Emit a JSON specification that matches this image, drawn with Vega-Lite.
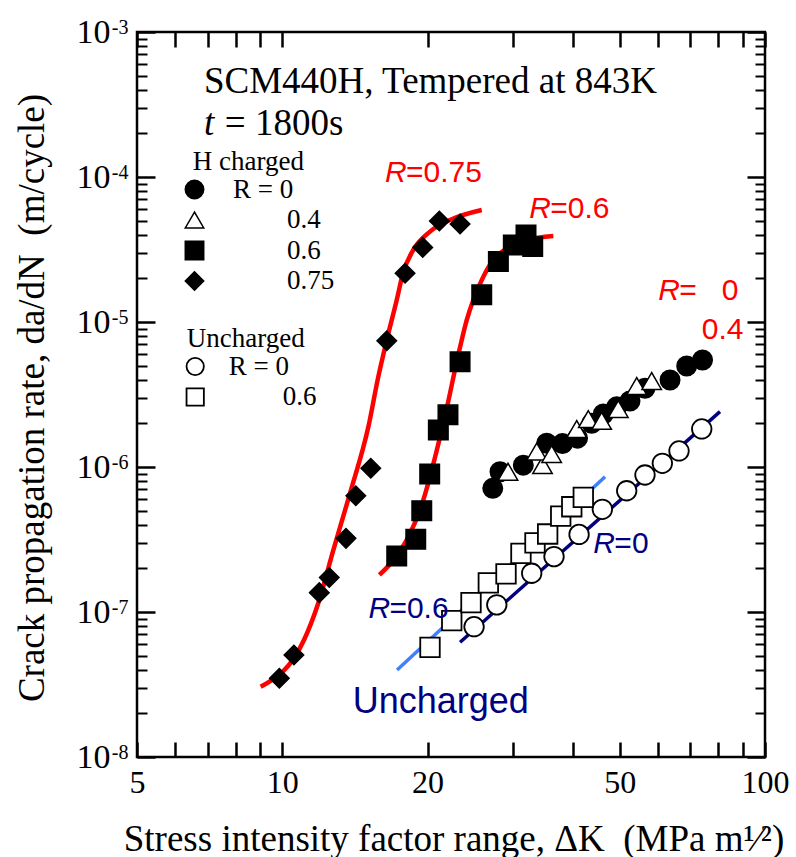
{
  "$schema": "https://vega.github.io/schema/vega-lite/v6.json",
  "width": 628,
  "height": 725,
  "autosize": {"type": "none"},
  "padding": {"left": 137, "top": 32, "right": 31, "bottom": 100},
  "background": "white",
  "config": {
    "view": {"stroke": "black", "strokeWidth": 2.5},
    "axis": {
      "grid": false, "domain": false, "tickColor": "black", "tickWidth": 2.5,
      "labelFont": "Liberation Serif", "labelFontSize": 33, "labelColor": "black",
      "titleFont": "Liberation Serif", "titleFontSize": 37, "titleFontWeight": "normal", "titleColor": "black",
      "labelFlush": false, "labelOverlap": false
    },
    "legend": {
      "titleFont": "Liberation Serif", "titleFontSize": 27, "titleFontWeight": "normal", "titleColor": "black",
      "labelFont": "Liberation Serif", "labelFontSize": 27, "labelColor": "black",
      "padding": 0, "rowPadding": 2.5, "titlePadding": 0, "direction": "vertical"
    }
  },
  "datasets": {
    "curves": [
      {"curve": "R=0.75", "dK": 9.02, "rate": 3.05e-8},
      {"curve": "R=0.75", "dK": 11.09, "rate": 6.41e-8},
      {"curve": "R=0.75", "dK": 11.87, "rate": 1.15e-7},
      {"curve": "R=0.75", "dK": 12.76, "rate": 2.68e-7},
      {"curve": "R=0.75", "dK": 13.81, "rate": 6.58e-7},
      {"curve": "R=0.75", "dK": 15.08, "rate": 1.9e-6},
      {"curve": "R=0.75", "dK": 15.81, "rate": 4.2e-6},
      {"curve": "R=0.75", "dK": 16.46, "rate": 7.51e-6},
      {"curve": "R=0.75", "dK": 17.26, "rate": 1.42e-5},
      {"curve": "R=0.75", "dK": 17.79, "rate": 2.18e-5},
      {"curve": "R=0.75", "dK": 18.68, "rate": 3.14e-5},
      {"curve": "R=0.75", "dK": 20.23, "rate": 4.2e-5},
      {"curve": "R=0.75", "dK": 22.25, "rate": 5.05e-5},
      {"curve": "R=0.75", "dK": 25.89, "rate": 5.92e-5},
      {"curve": "R=0.6", "dK": 15.89, "rate": 1.8e-7},
      {"curve": "R=0.6", "dK": 18.1, "rate": 3.14e-7},
      {"curve": "R=0.6", "dK": 19.29, "rate": 5.05e-7},
      {"curve": "R=0.6", "dK": 21.56, "rate": 2.0e-6},
      {"curve": "R=0.6", "dK": 23.35, "rate": 6.72e-6},
      {"curve": "R=0.6", "dK": 24.1, "rate": 1.03e-5},
      {"curve": "R=0.6", "dK": 24.87, "rate": 1.42e-5},
      {"curve": "R=0.6", "dK": 26.09, "rate": 2.05e-5},
      {"curve": "R=0.6", "dK": 27.36, "rate": 2.68e-5},
      {"curve": "R=0.6", "dK": 29.16, "rate": 3.22e-5},
      {"curve": "R=0.6", "dK": 32.09, "rate": 3.68e-5},
      {"curve": "R=0.6", "dK": 36.43, "rate": 3.92e-5}
    ],
    "fits": [
      {"fit": "R = 0", "dK": 23.35, "rate": 6.18e-8},
      {"fit": "R = 0", "dK": 80.68, "rate": 2.41e-6},
      {"fit": "R = 0.6", "dK": 17.29, "rate": 3.98e-8},
      {"fit": "R = 0.6", "dK": 46.63, "rate": 8.57e-7}
    ],
    "charged": [
      {"R": "0", "dK": 27.29, "rate": 7.13e-7},
      {"R": "0", "dK": 28.25, "rate": 9.28e-7},
      {"R": "0", "dK": 31.57, "rate": 1.03e-6},
      {"R": "0", "dK": 35.3, "rate": 1.46e-6},
      {"R": "0", "dK": 38.06, "rate": 1.45e-6},
      {"R": "0", "dK": 40.89, "rate": 1.58e-6},
      {"R": "0", "dK": 43.75, "rate": 2.0e-6},
      {"R": "0", "dK": 46.24, "rate": 2.32e-6},
      {"R": "0", "dK": 49.29, "rate": 2.6e-6},
      {"R": "0", "dK": 52.52, "rate": 2.85e-6},
      {"R": "0", "dK": 56.41, "rate": 3.49e-6},
      {"R": "0", "dK": 63.57, "rate": 3.98e-6},
      {"R": "0", "dK": 68.83, "rate": 4.97e-6},
      {"R": "0", "dK": 74.23, "rate": 5.47e-6},
      {"R": "0.4", "dK": 29.35, "rate": 9.28e-7},
      {"R": "0.4", "dK": 34.6, "rate": 1.03e-6},
      {"R": "0.4", "dK": 33.66, "rate": 1.28e-6},
      {"R": "0.4", "dK": 36.14, "rate": 1.23e-6},
      {"R": "0.4", "dK": 40.73, "rate": 1.83e-6},
      {"R": "0.4", "dK": 43.05, "rate": 2.14e-6},
      {"R": "0.4", "dK": 45.88, "rate": 2.08e-6},
      {"R": "0.4", "dK": 49.67, "rate": 2.51e-6},
      {"R": "0.4", "dK": 54.23, "rate": 3.62e-6},
      {"R": "0.4", "dK": 58.24, "rate": 3.92e-6},
      {"R": "0.6", "dK": 17.26, "rate": 2.43e-7},
      {"R": "0.6", "dK": 18.9, "rate": 3.17e-7},
      {"R": "0.6", "dK": 19.45, "rate": 5.0e-7},
      {"R": "0.6", "dK": 20.2, "rate": 8.95e-7},
      {"R": "0.6", "dK": 21.05, "rate": 1.8e-6},
      {"R": "0.6", "dK": 22.04, "rate": 2.29e-6},
      {"R": "0.6", "dK": 23.35, "rate": 5.32e-6},
      {"R": "0.6", "dK": 25.89, "rate": 1.54e-5},
      {"R": "0.6", "dK": 28.03, "rate": 2.61e-5},
      {"R": "0.6", "dK": 30.1, "rate": 3.4e-5},
      {"R": "0.6", "dK": 31.98, "rate": 3.98e-5},
      {"R": "0.6", "dK": 33.02, "rate": 3.31e-5},
      {"R": "0.75", "dK": 9.86, "rate": 3.49e-8},
      {"R": "0.75", "dK": 10.57, "rate": 5.05e-8},
      {"R": "0.75", "dK": 11.93, "rate": 1.36e-7},
      {"R": "0.75", "dK": 12.51, "rate": 1.73e-7},
      {"R": "0.75", "dK": 13.55, "rate": 3.22e-7},
      {"R": "0.75", "dK": 14.2, "rate": 6.34e-7},
      {"R": "0.75", "dK": 15.25, "rate": 9.8e-7},
      {"R": "0.75", "dK": 16.46, "rate": 7.43e-6},
      {"R": "0.75", "dK": 17.96, "rate": 2.17e-5},
      {"R": "0.75", "dK": 19.54, "rate": 3.27e-5},
      {"R": "0.75", "dK": 21.15, "rate": 4.97e-5},
      {"R": "0.75", "dK": 23.35, "rate": 4.74e-5}
    ],
    "uncharged": [
      {"R": "0", "dK": 24.96, "rate": 7.92e-8},
      {"R": "0", "dK": 27.82, "rate": 1.12e-7},
      {"R": "0", "dK": 32.86, "rate": 1.85e-7},
      {"R": "0", "dK": 36.55, "rate": 2.41e-7},
      {"R": "0", "dK": 41.19, "rate": 3.43e-7},
      {"R": "0", "dK": 46.03, "rate": 5.11e-7},
      {"R": "0", "dK": 51.7, "rate": 6.86e-7},
      {"R": "0", "dK": 56.41, "rate": 8.81e-7},
      {"R": "0", "dK": 61.28, "rate": 1.06e-6},
      {"R": "0", "dK": 66.35, "rate": 1.29e-6},
      {"R": "0", "dK": 73.95, "rate": 1.83e-6},
      {"R": "0.6", "dK": 20.23, "rate": 5.71e-8},
      {"R": "0.6", "dK": 22.44, "rate": 8.71e-8},
      {"R": "0.6", "dK": 24.6, "rate": 1.16e-7},
      {"R": "0.6", "dK": 26.72, "rate": 1.59e-7},
      {"R": "0.6", "dK": 29.07, "rate": 1.83e-7},
      {"R": "0.6", "dK": 31.22, "rate": 2.54e-7},
      {"R": "0.6", "dK": 33.38, "rate": 3.0e-7},
      {"R": "0.6", "dK": 35.46, "rate": 3.45e-7},
      {"R": "0.6", "dK": 37.74, "rate": 4.59e-7},
      {"R": "0.6", "dK": 39.78, "rate": 5.32e-7},
      {"R": "0.6", "dK": 42.03, "rate": 6.18e-7}
    ],
    "serifText": [
      {"label": "SCM440H, Tempered at 843K", "dK": 6.88, "rate": 3.8e-4},
      {"label": "= 1800s", "dK": 7.6, "rate": 1.95e-4}
    ],
    "serifItalic": [
      {"label": "t", "dK": 6.88, "rate": 1.95e-4}
    ],
    "rLetter": [
      {"grp": "charged", "label": "R", "dK": 16.32, "rate": 9.28e-5},
      {"grp": "charged", "label": "R", "dK": 32.49, "rate": 5.19e-5},
      {"grp": "charged", "label": "R", "dK": 60.12, "rate": 1.418e-5},
      {"grp": "uncharged", "label": "R", "dK": 44.1, "rate": 2.54e-7},
      {"grp": "uncharged", "label": "R", "dK": 15.08, "rate": 9.05e-8}
    ],
    "rValue": [
      {"grp": "charged", "label": "=0.75", "dK": 16.32, "rate": 9.28e-5},
      {"grp": "charged", "label": "=0.6", "dK": 32.49, "rate": 5.19e-5},
      {"grp": "charged", "label": "=\u00a0\u00a0\u00a00", "dK": 60.12, "rate": 1.418e-5},
      {"grp": "uncharged", "label": "=0", "dK": 44.1, "rate": 2.54e-7},
      {"grp": "uncharged", "label": "=0.6", "dK": 15.08, "rate": 9.05e-8}
    ],
    "plainRed": [
      {"label": "0.4", "dK": 73.95, "rate": 7.6e-6}
    ],
    "plainNavy": [
      {"label": "Uncharged", "dK": 13.99, "rate": 2.0e-8}
    ]
  },
  "layer": [
    {
      "data": {"name": "curves"},
      "mark": {"type": "line", "color": "#ff0000", "strokeWidth": 4.5, "interpolate": "monotone"},
      "encoding": {
        "x": {"field": "dK", "type": "quantitative", "scale": {"type": "log", "domain": [5, 100]},
          "axis": {"orient": "bottom", "values": [5,6,7,8,9,10,20,30,40,50,60,70,80,90,100], "tickSize": -15,
            "labelExpr": "indexof([5,10,20,50,100], datum.value) >= 0 ? format(datum.value, 'd') : ''",
            "labelPadding": 25, "labelFontSize": 32,
            "title": "Stress intensity factor range, ΔK\u00a0\u00a0(MPa m¹⁄²)",
            "titleX": 316.5, "titleY": 93, "titleAlign": "center", "titleBaseline": "alphabetic"}},
        "y": {"field": "rate", "type": "quantitative", "scale": {"type": "log", "domain": [1e-8, 1e-3]},
          "axis": {"orient": "left", "values": [1e-8,1e-7,1e-6,1e-5,1e-4,1e-3], "tickSize": -18,
            "labelExpr": "'10'", "labelFontSize": 34,
            "labelPadding": 45, "labelBaseline": "middle",
            "title": "Crack propagation rate, da/dN\u00a0\u00a0(m/cycle)",
            "titleX": -94, "titleY": 365.5, "titleAngle": -90, "titleAlign": "center", "titleBaseline": "alphabetic"}},
        "detail": {"field": "curve", "type": "nominal"}
      }
    },
    {
      "data": {"name": "fits"},
      "mark": {"type": "line", "strokeWidth": 3.5},
      "encoding": {
        "x": {"field": "dK", "type": "quantitative", "scale": {"type": "log", "domain": [5, 100]},
          "axis": {"orient": "top", "values": [5,6,7,8,9,10,20,30,40,50,60,70,80,90,100], "tickSize": -15, "labels": false, "title": null}},
        "y": {"field": "rate", "type": "quantitative", "scale": {"type": "log", "domain": [1e-8, 1e-3]},
          "axis": {"orient": "left", "values": [2e-8,3e-8,4e-8,5e-8,6e-8,7e-8,8e-8,9e-8,2e-7,3e-7,4e-7,5e-7,6e-7,7e-7,8e-7,9e-7,2e-6,3e-6,4e-6,5e-6,6e-6,7e-6,8e-6,9e-6,2e-5,3e-5,4e-5,5e-5,6e-5,7e-5,8e-5,9e-5,2e-4,3e-4,4e-4,5e-4,6e-4,7e-4,8e-4,9e-4], "tickSize": -10, "tickWidth": 2, "labels": false, "title": null}},
        "stroke": {"field": "fit", "type": "nominal", "scale": {"domain": ["R = 0", "R = 0.6"], "range": ["#000080", "#4080ff"]}, "legend": null}
      }
    },
    {
      "data": {"name": "charged"},
      "mark": {"type": "point", "filled": true, "strokeWidth": 1.5, "size": 380, "opacity": 1},
      "encoding": {
        "x": {"field": "dK", "type": "quantitative", "scale": {"type": "log", "domain": [5, 100]}, "axis": null},
        "y": {"field": "rate", "type": "quantitative", "scale": {"type": "log", "domain": [1e-8, 1e-3]},
          "axis": {"orient": "right", "values": [1e-8,1e-7,1e-6,1e-5,1e-4,1e-3], "tickSize": -18, "labels": false, "title": null}},
        "shape": {"field": "R", "type": "nominal",
          "scale": {"domain": ["0", "0.4", "0.6", "0.75"], "range": ["circle", "triangle-up", "square", "diamond"]},
          "legend": {"title": "\u200b\u00a0H charged", "orient": "none", "legendX": 49, "legendY": 117, "symbolOffset": -5, "labelOffset": 25,
            "symbolSize": 340, "symbolStrokeWidth": 1.5,
            "labelExpr": "datum.label == '0' ? 'R = 0' : '\\u200b\\u00a0\\u00a0\\u00a0\\u00a0\\u00a0\\u00a0\\u00a0\\u00a0' + datum.label"}},
        "fill": {"field": "R", "type": "nominal",
          "scale": {"domain": ["0", "0.4", "0.6", "0.75"], "range": ["black", "white", "black", "black"]},
          "legend": {"title": "\u200b\u00a0H charged", "orient": "none", "legendX": 49, "legendY": 117, "symbolOffset": -5, "labelOffset": 25,
            "symbolSize": 340, "symbolStrokeWidth": 1.5,
            "labelExpr": "datum.label == '0' ? 'R = 0' : '\\u200b\\u00a0\\u00a0\\u00a0\\u00a0\\u00a0\\u00a0\\u00a0\\u00a0' + datum.label"}},
        "stroke": {"field": "R", "type": "nominal",
          "scale": {"domain": ["0", "0.4", "0.6", "0.75"], "range": ["black", "black", "black", "black"]},
          "legend": {"title": "\u200b\u00a0H charged", "orient": "none", "legendX": 49, "legendY": 117, "symbolOffset": -5, "labelOffset": 25,
            "symbolSize": 340, "symbolStrokeWidth": 1.5,
            "labelExpr": "datum.label == '0' ? 'R = 0' : '\\u200b\\u00a0\\u00a0\\u00a0\\u00a0\\u00a0\\u00a0\\u00a0\\u00a0' + datum.label"}}
      }
    },
    {
      "data": {"name": "uncharged"},
      "mark": {"type": "point", "filled": true, "strokeWidth": 1.8, "size": 380, "opacity": 1},
      "encoding": {
        "x": {"field": "dK", "type": "quantitative", "scale": {"type": "log", "domain": [5, 100]}, "axis": null},
        "y": {"field": "rate", "type": "quantitative", "scale": {"type": "log", "domain": [1e-8, 1e-3]},
          "axis": {"orient": "right", "values": [2e-8,3e-8,4e-8,5e-8,6e-8,7e-8,8e-8,9e-8,2e-7,3e-7,4e-7,5e-7,6e-7,7e-7,8e-7,9e-7,2e-6,3e-6,4e-6,5e-6,6e-6,7e-6,8e-6,9e-6,2e-5,3e-5,4e-5,5e-5,6e-5,7e-5,8e-5,9e-5,2e-4,3e-4,4e-4,5e-4,6e-4,7e-4,8e-4,9e-4], "tickSize": -10, "tickWidth": 2, "labels": false, "title": null}},
        "shape": {"field": "R", "type": "nominal",
          "scale": {"domain": ["0", "0.6"], "range": ["circle", "square"]},
          "legend": {"title": "Uncharged", "orient": "none", "legendX": 49.7, "legendY": 294, "symbolOffset": -5, "labelOffset": 20,
            "symbolSize": 300, "symbolStrokeWidth": 1.8,
            "labelExpr": "datum.label == '0' ? 'R = 0' : '\\u200b\\u00a0\\u00a0\\u00a0\\u00a0\\u00a0\\u00a0\\u00a0\\u00a0' + datum.label"}},
        "fill": {"field": "R", "type": "nominal",
          "scale": {"domain": ["0", "0.6"], "range": ["white", "white"]},
          "legend": {"title": "Uncharged", "orient": "none", "legendX": 49.7, "legendY": 294, "symbolOffset": -5, "labelOffset": 20,
            "symbolSize": 300, "symbolStrokeWidth": 1.8,
            "labelExpr": "datum.label == '0' ? 'R = 0' : '\\u200b\\u00a0\\u00a0\\u00a0\\u00a0\\u00a0\\u00a0\\u00a0\\u00a0' + datum.label"}},
        "stroke": {"field": "R", "type": "nominal",
          "scale": {"domain": ["0", "0.6"], "range": ["black", "black"]},
          "legend": {"title": "Uncharged", "orient": "none", "legendX": 49.7, "legendY": 294, "symbolOffset": -5, "labelOffset": 20,
            "symbolSize": 300, "symbolStrokeWidth": 1.8,
            "labelExpr": "datum.label == '0' ? 'R = 0' : '\\u200b\\u00a0\\u00a0\\u00a0\\u00a0\\u00a0\\u00a0\\u00a0\\u00a0' + datum.label"}}
      }
    },
    {
      "data": {"name": "serifText"},
      "mark": {"type": "text", "font": "Liberation Serif", "fontSize": 37, "align": "left", "baseline": "alphabetic", "color": "black"},
      "encoding": {
        "x": {"field": "dK", "type": "quantitative", "scale": {"type": "log", "domain": [5, 100]}, "axis": null},
        "y": {"field": "rate", "type": "quantitative", "scale": {"type": "log", "domain": [1e-8, 1e-3]}, "axis": null},
        "text": {"field": "label"}
      }
    },
    {
      "data": {"name": "serifItalic"},
      "mark": {"type": "text", "font": "Liberation Serif", "fontStyle": "italic", "fontSize": 37, "align": "left", "baseline": "alphabetic", "color": "black"},
      "encoding": {
        "x": {"field": "dK", "type": "quantitative", "scale": {"type": "log", "domain": [5, 100]}, "axis": null},
        "y": {"field": "rate", "type": "quantitative", "scale": {"type": "log", "domain": [1e-8, 1e-3]},
          "axis": {"orient": "left", "values": [1e-8,1e-7,1e-6,1e-5,1e-4,1e-3], "ticks": false, "tickSize": 0,
            "labelExpr": "'-' + format(-round(log(datum.value)/LN10), 'd')", "labelFontSize": 20,
            "labelPadding": 9, "labelAlign": "right", "labelBaseline": "alphabetic", "labelOffset": 1, "title": null}},
        "text": {"field": "label"}
      }
    },
    {
      "data": {"name": "rLetter"},
      "mark": {"type": "text", "font": "Liberation Sans", "fontStyle": "italic", "fontSize": 30, "align": "left", "baseline": "alphabetic"},
      "encoding": {
        "x": {"field": "dK", "type": "quantitative", "scale": {"type": "log", "domain": [5, 100]}, "axis": null},
        "y": {"field": "rate", "type": "quantitative", "scale": {"type": "log", "domain": [1e-8, 1e-3]}, "axis": null},
        "text": {"field": "label"},
        "color": {"field": "grp", "type": "nominal", "scale": {"domain": ["charged", "uncharged"], "range": ["#ff0000", "#000080"]}, "legend": null}
      }
    },
    {
      "data": {"name": "rValue"},
      "mark": {"type": "text", "font": "Liberation Sans", "fontSize": 30, "align": "left", "baseline": "alphabetic", "dx": 21},
      "encoding": {
        "x": {"field": "dK", "type": "quantitative", "scale": {"type": "log", "domain": [5, 100]}, "axis": null},
        "y": {"field": "rate", "type": "quantitative", "scale": {"type": "log", "domain": [1e-8, 1e-3]}, "axis": null},
        "text": {"field": "label"},
        "color": {"field": "grp", "type": "nominal", "scale": {"domain": ["charged", "uncharged"], "range": ["#ff0000", "#000080"]}, "legend": null}
      }
    },
    {
      "data": {"name": "plainRed"},
      "mark": {"type": "text", "font": "Liberation Sans", "fontSize": 30, "align": "left", "baseline": "alphabetic", "color": "#ff0000"},
      "encoding": {
        "x": {"field": "dK", "type": "quantitative", "scale": {"type": "log", "domain": [5, 100]}, "axis": null},
        "y": {"field": "rate", "type": "quantitative", "scale": {"type": "log", "domain": [1e-8, 1e-3]}, "axis": null},
        "text": {"field": "label"}
      }
    },
    {
      "data": {"name": "plainNavy"},
      "mark": {"type": "text", "font": "Liberation Sans", "fontSize": 36, "align": "left", "baseline": "alphabetic", "color": "#000080"},
      "encoding": {
        "x": {"field": "dK", "type": "quantitative", "scale": {"type": "log", "domain": [5, 100]}, "axis": null},
        "y": {"field": "rate", "type": "quantitative", "scale": {"type": "log", "domain": [1e-8, 1e-3]}, "axis": null},
        "text": {"field": "label"}
      }
    }
  ],
  "resolve": {
    "scale": {"shape": "independent", "fill": "independent", "stroke": "independent"},
    "axis": {"x": "independent", "y": "independent"}
  }
}
